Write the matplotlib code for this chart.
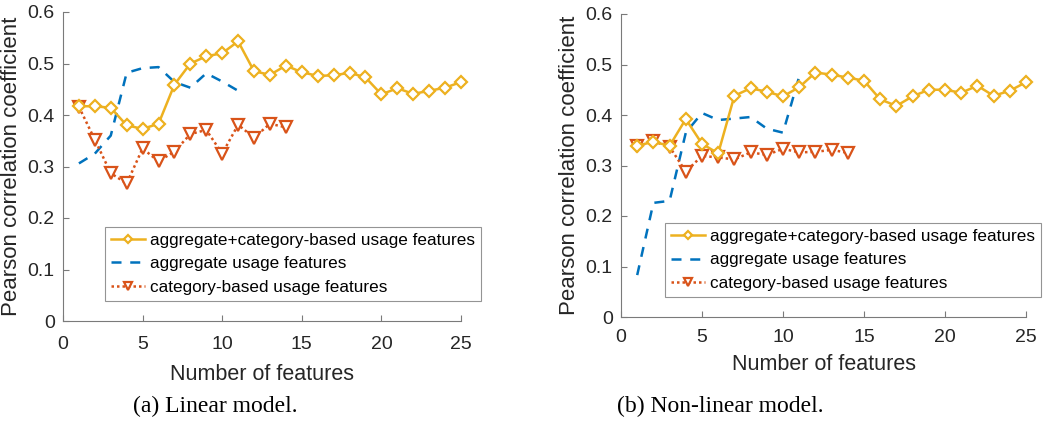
import matplotlib
matplotlib.use("Agg")
import matplotlib.pyplot as plt
import numpy as np

# ---- data ----
x_comb = list(range(1, 26))
x_agg = list(range(1, 12))
x_cat = list(range(1, 15))

lin_comb = [0.417, 0.417, 0.414, 0.380, 0.373, 0.383, 0.459, 0.500, 0.514, 0.520,
            0.543, 0.485, 0.478, 0.496, 0.483, 0.476, 0.477, 0.482, 0.473, 0.440,
            0.452, 0.441, 0.447, 0.453, 0.464]
lin_agg = [0.306, 0.325, 0.360, 0.482, 0.491, 0.493, 0.464, 0.453, 0.481, 0.465, 0.447]
lin_cat = [0.416, 0.352, 0.287, 0.267, 0.335, 0.310, 0.329, 0.363, 0.371, 0.325,
           0.381, 0.356, 0.383, 0.376]

nl_comb = [0.339, 0.347, 0.339, 0.392, 0.343, 0.324, 0.438, 0.453, 0.446, 0.437,
           0.455, 0.484, 0.480, 0.474, 0.468, 0.431, 0.418, 0.437, 0.450, 0.450,
           0.444, 0.458, 0.438, 0.448, 0.465]
nl_agg = [0.083, 0.226, 0.230, 0.365, 0.404, 0.390, 0.393, 0.396, 0.373, 0.365, 0.476]
nl_cat = [0.338, 0.348, 0.337, 0.288, 0.319, 0.316, 0.312, 0.326, 0.321, 0.333,
          0.326, 0.327, 0.331, 0.325]

labels = ["aggregate+category-based usage features",
          "aggregate usage features",
          "category-based usage features"]
xticks = [0, 5, 10, 15, 20, 25]
yticks = [0, 0.1, 0.2, 0.3, 0.4, 0.5, 0.6]
ytick_labels = ["0", "0.1", "0.2", "0.3", "0.4", "0.5", "0.6"]
captions = ["(a) Linear model.", "(b) Non-linear model."]

C_Y = "#EDB120"
C_B = "#0072BD"
C_R = "#D95319"
TXT_C = "#262626"
SPINE_C = "#7a7a7a"

plt.rcParams['font.family'] = ['Liberation Sans', 'DejaVu Sans']

fig = plt.figure(figsize=(10.5, 4.26), dpi=100)
W, H = 1050, 426

def make_ax(l, r, b, t):
    return fig.add_axes([l / W, (H - b) / H, (r - l) / W, (b - t) / H])

boxes = [(63, 461, 321, 12), (621, 1026, 317, 14)]
axes = [make_ax(*bx) for bx in boxes]
datasets = [(lin_comb, lin_agg, lin_cat), (nl_comb, nl_agg, nl_cat)]
legend_boxes = [(105, 225, 477, 301), (665, 222, 1040, 297)]
xlabel_y = [374, 365]
xtick_pad = [11, 9]
caption_x = [215, 720]

for ax, bx, (comb, agg, cat), lb, xly, xpad, cx, cap in zip(
        axes, boxes, datasets, legend_boxes, xlabel_y, xtick_pad, caption_x, captions):
    ax.plot(x_comb, comb, color=C_Y, lw=1.8, marker='D', ms=6.5, mfc='white',
            mec=C_Y, mew=1.6, label=labels[0], zorder=3, clip_on=False)
    ax.plot(x_agg, agg, color=C_B, lw=1.8, ls=(0, (4, 3.5)), label=labels[1], zorder=2)
    ax.plot(x_cat, cat, color=C_R, lw=1.8, ls=(0, (1, 1.2)), marker='v', ms=8,
            mfc='white', mec=C_R, mew=1.6, label=labels[2], zorder=2.5)
    ax.set_xlim(0, 25)
    ax.set_ylim(0, 0.6)
    ax.set_xticks(xticks)
    ax.set_yticks(yticks)
    ax.set_yticklabels(ytick_labels)
    for s in ['top', 'right']:
        ax.spines[s].set_visible(False)
    for s in ['left', 'bottom']:
        ax.spines[s].set_color(SPINE_C)
        ax.spines[s].set_linewidth(0.8)
    ax.tick_params(direction='in', length=4, width=0.8, color=SPINE_C,
                   labelcolor=TXT_C, labelsize=14)
    ax.tick_params(axis='x', pad=xpad)
    ax.tick_params(axis='y', pad=6)
    ax.set_xlabel("Number of features", fontsize=15.5, color=TXT_C)
    ax.xaxis.label.set_va('center')
    l, r, b, t = bx
    ax.xaxis.set_label_coords(0.5, (b - xly) / (b - t))
    ax.set_ylabel("Pearson correlation coefficient", fontsize=16, color=TXT_C, labelpad=4)
    ll, lt, lr, lbm = lb
    leg = ax.legend(loc='lower left',
                    bbox_to_anchor=((ll - l) / (r - l), (b - lbm) / (b - t)),
                    fontsize=12.3, frameon=True, fancybox=False, edgecolor=SPINE_C,
                    borderpad=0.35, labelspacing=0.5, handlelength=2.0,
                    handletextpad=0.3, borderaxespad=0, markerscale=0.65)
    leg.get_frame().set_linewidth(0.8)
    for txt in leg.get_texts():
        txt.set_color('black')
    fig.text(cx / W, (H - 406) / H, cap, ha='center', va='center',
             fontsize=17, family='Liberation Serif')

fig.savefig("out.png", dpi=100)
